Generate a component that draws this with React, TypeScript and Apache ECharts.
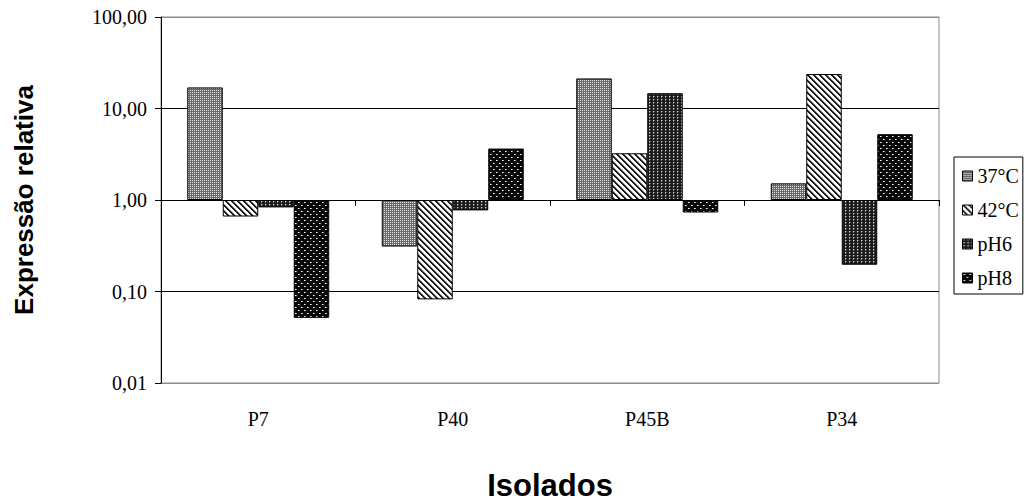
import React, { useEffect, useRef } from 'react';
import * as echarts from 'echarts';

const categories = ['P7', 'P40', 'P45B', 'P34'];
const seriesNames = ['37°C', '42°C', 'pH6', 'pH8'];
const values37 = [17.0, 0.31, 21.3, 1.52];
const values42 = [0.66, 0.082, 3.24, 23.8];
const valuesPH6 = [0.83, 0.77, 14.7, 0.196];
const valuesPH8 = [0.0515, 3.65, 0.73, 5.24];
const seriesValues = [values37, values42, valuesPH6, valuesPH8];

const SERIF = '"Liberation Serif", "Times New Roman", serif';
const SANS = '"Liberation Sans", Arial, sans-serif';

type Px = [number, number, string];

function makeTile(w: number, h: number, bg: string, pixels: Px[]) {
  const c = document.createElement('canvas');
  c.width = w;
  c.height = h;
  const ctx = c.getContext('2d')!;
  ctx.fillStyle = bg;
  ctx.fillRect(0, 0, w, h);
  pixels.forEach(([x, y, col]) => {
    ctx.fillStyle = col;
    ctx.fillRect(x, y, 1, 1);
  });
  return { image: c, repeat: 'repeat', imageWidth: w, imageHeight: h } as any;
}

function makePatterns() {
  // 37°C: fine grey dotted
  const p37 = makeTile(2, 2, '#6a6a6a', [
    [0, 0, '#e4e4e4'],
  ]);
  // 42°C: wide downward diagonal stripes
  const stripePx: Px[] = [];
  for (let y = 0; y < 6; y++) {
    for (let x = 0; x < 6; x++) {
      const d = (((x - y) % 6) + 6) % 6;
      if (d === 0 || d === 1) stripePx.push([x, y, '#1a1a1a']);
      else if (d === 2) stripePx.push([x, y, '#8a8a8a']);
    }
  }
  const p42 = makeTile(6, 6, '#ffffff', stripePx);
  // pH6: dark with vertical dotted light columns
  const p6 = makeTile(4, 3, '#1c1c1c', [
    [1, 0, '#d4d4d4'],
    [1, 1, '#767676'],
    [2, 0, '#5a5a5a'],
  ]);
  // pH8: black with sparse white dots
  const p8 = makeTile(6, 6, '#080808', [
    [1, 1, '#ffffff'],
    [2, 1, '#9a9a9a'],
    [4, 4, '#ffffff'],
    [5, 4, '#9a9a9a'],
  ]);
  return [p37, p42, p6, p8];
}

export default function App() {
  const ref = useRef<HTMLDivElement>(null);

  useEffect(() => {
    if (!ref.current) return;
    const chart = echarts.init(ref.current, null, { renderer: 'svg' });
    const patterns = makePatterns();

    const fmt = (v: number) => v.toFixed(2).replace('.', ',');

    const option: any = {
      animation: false,
      backgroundColor: '#ffffff',
      grid: {
        left: 161,
        right: 92,
        top: 17,
        bottom: 119,
        show: true,
        borderColor: '#8c8c8c',
        borderWidth: 1,
        backgroundColor: 'transparent',
        containLabel: false,
        outerBoundsMode: 'none',
      },
      legend: {
        orient: 'vertical',
        left: 954,
        top: 157,
        width: 77,
        data: seriesNames,
        icon: 'rect',
        itemWidth: 10,
        itemHeight: 10,
        itemGap: 14,
        padding: [9, 4, 6, 8],
        backgroundColor: '#ffffff',
        borderColor: '#000000',
        borderWidth: 1,
        borderRadius: 0,
        itemStyle: { borderColor: '#000', borderWidth: 1 },
        textStyle: { fontFamily: SERIF, fontSize: 20, color: '#000' },
      },
      xAxis: [
        {
          type: 'category',
          data: categories,
          position: 'bottom',
          name: 'Isolados',
          nameLocation: 'middle',
          nameGap: 87,
          nameTextStyle: { fontFamily: SANS, fontWeight: 'bold', fontSize: 31, color: '#000' },
          axisLine: { show: false },
          axisTick: { show: false },
          axisLabel: { fontFamily: SERIF, fontSize: 20, color: '#000', margin: 26 },
          splitLine: { show: false },
        },
        {
          type: 'category',
          data: categories,
          position: 'bottom',
          offset: -183,
          axisLine: { show: true, lineStyle: { color: '#000', width: 1 } },
          axisTick: { show: true, inside: false, length: 6, lineStyle: { color: '#000' } },
          axisLabel: { show: false },
          splitLine: { show: false },
        },
      ],
      yAxis: {
        type: 'log',
        logBase: 10,
        min: 0.01,
        max: 100,
        name: 'Expressão relativa',
        nameLocation: 'middle',
        nameGap: 124,
        nameRotate: 90,
        nameTextStyle: { fontFamily: SANS, fontWeight: 'bold', fontSize: 26, color: '#000' },
        axisLine: { show: true, lineStyle: { color: '#000', width: 1 } },
        axisTick: { show: true, inside: false, length: 6, lineStyle: { color: '#000' } },
        axisLabel: { formatter: fmt, fontFamily: SERIF, fontSize: 20, color: '#000', margin: 14 },
        splitLine: {
          show: true,
          lineStyle: { color: ['#8c8c8c', '#000', '#000', '#000', '#8c8c8c'], width: 1 },
        },
        minorTick: { show: false },
      },
      series: seriesNames.map((name, i) => ({
        name,
        type: 'bar',
        xAxisIndex: 0,
        data: seriesValues[i],
        barGap: '0%',
        barCategoryGap: '27%',
        itemStyle: { color: patterns[i], borderColor: '#000', borderWidth: 1 },
        emphasis: { disabled: true },
      })),
    };

    chart.setOption(option);
    return () => chart.dispose();
  }, []);

  return <div ref={ref} style={{ width: 1031, height: 502, position: 'absolute', left: 0, top: 0 }} />;
}
